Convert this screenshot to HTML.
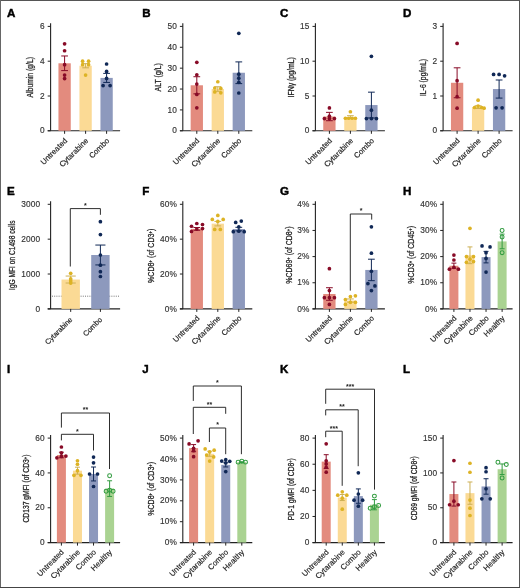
<!DOCTYPE html>
<html><head><meta charset="utf-8"><style>
html,body{margin:0;padding:0;background:#fff;}
svg{display:block;}
text{font-family:"Liberation Sans", sans-serif;}
</style></head><body>
<svg width="520" height="588" viewBox="0 0 520 588" style="will-change:transform">
<rect x="0" y="0" width="520" height="588" fill="#fff"/>
<text x="6.9" y="16.8" font-size="11.6" font-weight="bold" fill="#000" stroke="#000" stroke-width="0.45">A</text>
<line x1="50.6" y1="23.30" x2="50.6" y2="130.8" stroke="#222" stroke-width="1.1"/>
<line x1="47.70" y1="130.8" x2="120.10" y2="130.8" stroke="#222" stroke-width="1.1"/>
<line x1="47.70" y1="130.8" x2="50.6" y2="130.8" stroke="#222" stroke-width="1"/>
<text x="44.70" y="133.40" font-size="8.3" fill="#333" stroke="#333" stroke-width="0.15" text-anchor="end" letter-spacing="0.1">0</text>
<line x1="47.70" y1="96.0" x2="50.6" y2="96.0" stroke="#222" stroke-width="1"/>
<text x="44.70" y="98.60" font-size="8.3" fill="#333" stroke="#333" stroke-width="0.15" text-anchor="end" letter-spacing="0.1">2</text>
<line x1="47.70" y1="61.2" x2="50.6" y2="61.2" stroke="#222" stroke-width="1"/>
<text x="44.70" y="63.80" font-size="8.3" fill="#333" stroke="#333" stroke-width="0.15" text-anchor="end" letter-spacing="0.1">4</text>
<line x1="47.70" y1="26.4" x2="50.6" y2="26.4" stroke="#222" stroke-width="1"/>
<text x="44.70" y="29.00" font-size="8.3" fill="#333" stroke="#333" stroke-width="0.15" text-anchor="end" letter-spacing="0.1">6</text>
<text transform="translate(33.3,77.2) rotate(-90)" font-size="8.5" fill="#222" stroke="#222" stroke-width="0.26" text-anchor="middle" textLength="40.5" lengthAdjust="spacingAndGlyphs">Albumin (g/L)</text>
<rect x="58.45" y="63.29" width="12.3" height="67.51" fill="#E38B7E"/>
<rect x="79.45" y="65.72" width="12.3" height="65.08" fill="#FBDA95"/>
<rect x="100.45" y="77.9" width="12.3" height="52.90" fill="#8D99BD"/>
<line x1="64.60" y1="130.8" x2="64.60" y2="133.8" stroke="#222" stroke-width="1"/>
<text transform="translate(67.70,141.30) rotate(-45)" font-size="7.7" fill="#222" stroke="#222" stroke-width="0.18" text-anchor="end">Untreated</text>
<line x1="85.60" y1="130.8" x2="85.60" y2="133.8" stroke="#222" stroke-width="1"/>
<text transform="translate(88.70,141.30) rotate(-45)" font-size="7.7" fill="#222" stroke="#222" stroke-width="0.18" text-anchor="end">Cytarabine</text>
<line x1="106.60" y1="130.8" x2="106.60" y2="133.8" stroke="#222" stroke-width="1"/>
<text transform="translate(109.70,141.30) rotate(-45)" font-size="7.7" fill="#222" stroke="#222" stroke-width="0.18" text-anchor="end">Combo</text>
<line x1="64.60" y1="70.6" x2="64.60" y2="55.98" stroke="#880B27" stroke-width="1"/>
<line x1="61.22" y1="55.98" x2="67.98" y2="55.98" stroke="#880B27" stroke-width="1"/>
<line x1="61.22" y1="70.6" x2="67.98" y2="70.6" stroke="#880B27" stroke-width="1"/>
<circle cx="64.60" cy="43.8" r="1.85" fill="#880B27"/>
<circle cx="64.60" cy="50.76" r="1.85" fill="#880B27"/>
<circle cx="64.60" cy="64.68" r="1.85" fill="#880B27"/>
<circle cx="64.60" cy="75.12" r="1.85" fill="#880B27"/>
<circle cx="64.60" cy="78.6" r="1.85" fill="#880B27"/>
<line x1="85.60" y1="67.81" x2="85.60" y2="63.64" stroke="#CDB055" stroke-width="1"/>
<line x1="82.22" y1="63.64" x2="88.98" y2="63.64" stroke="#CDB055" stroke-width="1"/>
<line x1="82.22" y1="67.81" x2="88.98" y2="67.81" stroke="#CDB055" stroke-width="1"/>
<circle cx="82.60" cy="61.2" r="1.85" fill="#DDB325"/>
<circle cx="88.60" cy="61.2" r="1.85" fill="#DDB325"/>
<circle cx="82.60" cy="64.68" r="1.85" fill="#DDB325"/>
<circle cx="88.60" cy="64.68" r="1.85" fill="#DDB325"/>
<circle cx="85.60" cy="75.12" r="1.85" fill="#DDB325"/>
<line x1="106.60" y1="82.43" x2="106.60" y2="73.38" stroke="#102856" stroke-width="1"/>
<line x1="103.22" y1="73.38" x2="109.98" y2="73.38" stroke="#102856" stroke-width="1"/>
<line x1="103.22" y1="82.43" x2="109.98" y2="82.43" stroke="#102856" stroke-width="1"/>
<circle cx="106.60" cy="63.98" r="1.85" fill="#102856"/>
<circle cx="106.60" cy="71.47" r="1.85" fill="#102856"/>
<circle cx="106.60" cy="78.43" r="1.85" fill="#102856"/>
<circle cx="103.10" cy="85.56" r="1.85" fill="#102856"/>
<circle cx="110.10" cy="85.56" r="1.85" fill="#102856"/>
<text x="142.2" y="16.8" font-size="11.6" font-weight="bold" fill="#000" stroke="#000" stroke-width="0.45">B</text>
<line x1="182.8" y1="23.30" x2="182.8" y2="130.8" stroke="#222" stroke-width="1.1"/>
<line x1="179.90" y1="130.8" x2="252.30" y2="130.8" stroke="#222" stroke-width="1.1"/>
<line x1="179.90" y1="130.8" x2="182.8" y2="130.8" stroke="#222" stroke-width="1"/>
<text x="176.90" y="133.40" font-size="8.3" fill="#333" stroke="#333" stroke-width="0.15" text-anchor="end" letter-spacing="0.1">0</text>
<line x1="179.90" y1="109.92" x2="182.8" y2="109.92" stroke="#222" stroke-width="1"/>
<text x="176.90" y="112.52" font-size="8.3" fill="#333" stroke="#333" stroke-width="0.15" text-anchor="end" letter-spacing="0.1">10</text>
<line x1="179.90" y1="89.04" x2="182.8" y2="89.04" stroke="#222" stroke-width="1"/>
<text x="176.90" y="91.64" font-size="8.3" fill="#333" stroke="#333" stroke-width="0.15" text-anchor="end" letter-spacing="0.1">20</text>
<line x1="179.90" y1="68.16" x2="182.8" y2="68.16" stroke="#222" stroke-width="1"/>
<text x="176.90" y="70.76" font-size="8.3" fill="#333" stroke="#333" stroke-width="0.15" text-anchor="end" letter-spacing="0.1">30</text>
<line x1="179.90" y1="47.28" x2="182.8" y2="47.28" stroke="#222" stroke-width="1"/>
<text x="176.90" y="49.88" font-size="8.3" fill="#333" stroke="#333" stroke-width="0.15" text-anchor="end" letter-spacing="0.1">40</text>
<line x1="179.90" y1="26.4" x2="182.8" y2="26.4" stroke="#222" stroke-width="1"/>
<text x="176.90" y="29.00" font-size="8.3" fill="#333" stroke="#333" stroke-width="0.15" text-anchor="end" letter-spacing="0.1">50</text>
<text transform="translate(160.8,77.3) rotate(-90)" font-size="8.5" fill="#222" stroke="#222" stroke-width="0.26" text-anchor="middle" textLength="28.2" lengthAdjust="spacingAndGlyphs">ALT (g/L)</text>
<rect x="190.65" y="85.28" width="12.3" height="45.52" fill="#E38B7E"/>
<rect x="211.65" y="89.04" width="12.3" height="41.76" fill="#FBDA95"/>
<rect x="232.65" y="72.75" width="12.3" height="58.05" fill="#8D99BD"/>
<line x1="196.80" y1="130.8" x2="196.80" y2="133.8" stroke="#222" stroke-width="1"/>
<text transform="translate(199.90,141.30) rotate(-45)" font-size="7.7" fill="#222" stroke="#222" stroke-width="0.18" text-anchor="end">Untreated</text>
<line x1="217.80" y1="130.8" x2="217.80" y2="133.8" stroke="#222" stroke-width="1"/>
<text transform="translate(220.90,141.30) rotate(-45)" font-size="7.7" fill="#222" stroke="#222" stroke-width="0.18" text-anchor="end">Cytarabine</text>
<line x1="238.80" y1="130.8" x2="238.80" y2="133.8" stroke="#222" stroke-width="1"/>
<text transform="translate(241.90,141.30) rotate(-45)" font-size="7.7" fill="#222" stroke="#222" stroke-width="0.18" text-anchor="end">Combo</text>
<line x1="196.80" y1="93.84" x2="196.80" y2="76.72" stroke="#880B27" stroke-width="1"/>
<line x1="193.42" y1="76.72" x2="200.18" y2="76.72" stroke="#880B27" stroke-width="1"/>
<line x1="193.42" y1="93.84" x2="200.18" y2="93.84" stroke="#880B27" stroke-width="1"/>
<circle cx="196.80" cy="62.31" r="1.85" fill="#880B27"/>
<circle cx="196.80" cy="74.84" r="1.85" fill="#880B27"/>
<circle cx="196.80" cy="84.03" r="1.85" fill="#880B27"/>
<circle cx="196.80" cy="94.47" r="1.85" fill="#880B27"/>
<circle cx="196.80" cy="107.83" r="1.85" fill="#880B27"/>
<line x1="217.80" y1="91.34" x2="217.80" y2="86.74" stroke="#CDB055" stroke-width="1"/>
<line x1="214.42" y1="86.74" x2="221.18" y2="86.74" stroke="#CDB055" stroke-width="1"/>
<line x1="214.42" y1="91.34" x2="221.18" y2="91.34" stroke="#CDB055" stroke-width="1"/>
<circle cx="217.80" cy="81.73" r="1.85" fill="#DDB325"/>
<circle cx="214.80" cy="88.0" r="1.85" fill="#DDB325"/>
<circle cx="220.80" cy="88.41" r="1.85" fill="#DDB325"/>
<circle cx="214.80" cy="91.96" r="1.85" fill="#DDB325"/>
<circle cx="220.80" cy="92.8" r="1.85" fill="#DDB325"/>
<line x1="238.80" y1="83.61" x2="238.80" y2="61.9" stroke="#102856" stroke-width="1"/>
<line x1="235.42" y1="61.9" x2="242.18" y2="61.9" stroke="#102856" stroke-width="1"/>
<line x1="235.42" y1="83.61" x2="242.18" y2="83.61" stroke="#102856" stroke-width="1"/>
<circle cx="238.80" cy="33.29" r="1.85" fill="#102856"/>
<circle cx="238.80" cy="74.22" r="1.85" fill="#102856"/>
<circle cx="238.80" cy="78.18" r="1.85" fill="#102856"/>
<circle cx="238.80" cy="82.36" r="1.85" fill="#102856"/>
<circle cx="238.80" cy="93.01" r="1.85" fill="#102856"/>
<text x="280.0" y="16.8" font-size="11.6" font-weight="bold" fill="#000" stroke="#000" stroke-width="0.45">C</text>
<line x1="315.4" y1="23.30" x2="315.4" y2="130.8" stroke="#222" stroke-width="1.1"/>
<line x1="312.50" y1="130.8" x2="384.90" y2="130.8" stroke="#222" stroke-width="1.1"/>
<line x1="312.50" y1="130.8" x2="315.4" y2="130.8" stroke="#222" stroke-width="1"/>
<text x="309.50" y="133.40" font-size="8.3" fill="#333" stroke="#333" stroke-width="0.15" text-anchor="end" letter-spacing="0.1">0</text>
<line x1="312.50" y1="96.0" x2="315.4" y2="96.0" stroke="#222" stroke-width="1"/>
<text x="309.50" y="98.60" font-size="8.3" fill="#333" stroke="#333" stroke-width="0.15" text-anchor="end" letter-spacing="0.1">5</text>
<line x1="312.50" y1="61.2" x2="315.4" y2="61.2" stroke="#222" stroke-width="1"/>
<text x="309.50" y="63.80" font-size="8.3" fill="#333" stroke="#333" stroke-width="0.15" text-anchor="end" letter-spacing="0.1">10</text>
<line x1="312.50" y1="26.4" x2="315.4" y2="26.4" stroke="#222" stroke-width="1"/>
<text x="309.50" y="29.00" font-size="8.3" fill="#333" stroke="#333" stroke-width="0.15" text-anchor="end" letter-spacing="0.1">15</text>
<text transform="translate(293.6,77.3) rotate(-90)" font-size="8.5" fill="#222" stroke="#222" stroke-width="0.26" text-anchor="middle" textLength="40.4" lengthAdjust="spacingAndGlyphs">IFNγ (pg/mL)</text>
<rect x="323.25" y="116.53" width="12.3" height="14.27" fill="#E38B7E"/>
<rect x="344.25" y="117.09" width="12.3" height="13.71" fill="#FBDA95"/>
<rect x="365.25" y="105.05" width="12.3" height="25.75" fill="#8D99BD"/>
<line x1="329.40" y1="130.8" x2="329.40" y2="133.8" stroke="#222" stroke-width="1"/>
<text transform="translate(332.50,141.30) rotate(-45)" font-size="7.7" fill="#222" stroke="#222" stroke-width="0.18" text-anchor="end">Untreated</text>
<line x1="350.40" y1="130.8" x2="350.40" y2="133.8" stroke="#222" stroke-width="1"/>
<text transform="translate(353.50,141.30) rotate(-45)" font-size="7.7" fill="#222" stroke="#222" stroke-width="0.18" text-anchor="end">Cytarabine</text>
<line x1="371.40" y1="130.8" x2="371.40" y2="133.8" stroke="#222" stroke-width="1"/>
<text transform="translate(374.50,141.30) rotate(-45)" font-size="7.7" fill="#222" stroke="#222" stroke-width="0.18" text-anchor="end">Combo</text>
<line x1="329.40" y1="120.71" x2="329.40" y2="112.36" stroke="#880B27" stroke-width="1"/>
<line x1="326.02" y1="112.36" x2="332.78" y2="112.36" stroke="#880B27" stroke-width="1"/>
<line x1="326.02" y1="120.71" x2="332.78" y2="120.71" stroke="#880B27" stroke-width="1"/>
<circle cx="329.40" cy="107.9" r="1.85" fill="#880B27"/>
<circle cx="329.40" cy="116.18" r="1.85" fill="#880B27"/>
<circle cx="324.40" cy="118.55" r="1.85" fill="#880B27"/>
<circle cx="329.40" cy="118.55" r="1.85" fill="#880B27"/>
<circle cx="334.40" cy="118.55" r="1.85" fill="#880B27"/>
<line x1="350.40" y1="118.48" x2="350.40" y2="115.7" stroke="#CDB055" stroke-width="1"/>
<line x1="347.02" y1="115.7" x2="353.78" y2="115.7" stroke="#CDB055" stroke-width="1"/>
<line x1="347.02" y1="118.48" x2="353.78" y2="118.48" stroke="#CDB055" stroke-width="1"/>
<circle cx="350.40" cy="111.73" r="1.85" fill="#DDB325"/>
<circle cx="345.40" cy="118.27" r="1.85" fill="#DDB325"/>
<circle cx="348.70" cy="118.27" r="1.85" fill="#DDB325"/>
<circle cx="352.10" cy="118.27" r="1.85" fill="#DDB325"/>
<circle cx="355.40" cy="118.27" r="1.85" fill="#DDB325"/>
<line x1="371.40" y1="117.92" x2="371.40" y2="92.17" stroke="#102856" stroke-width="1"/>
<line x1="368.02" y1="92.17" x2="374.78" y2="92.17" stroke="#102856" stroke-width="1"/>
<line x1="368.02" y1="117.92" x2="374.78" y2="117.92" stroke="#102856" stroke-width="1"/>
<circle cx="371.40" cy="56.33" r="1.85" fill="#102856"/>
<circle cx="371.40" cy="110.2" r="1.85" fill="#102856"/>
<circle cx="366.40" cy="118.55" r="1.85" fill="#102856"/>
<circle cx="371.40" cy="118.55" r="1.85" fill="#102856"/>
<circle cx="376.40" cy="118.55" r="1.85" fill="#102856"/>
<text x="403.0" y="16.8" font-size="11.6" font-weight="bold" fill="#000" stroke="#000" stroke-width="0.45">D</text>
<line x1="443.1" y1="23.30" x2="443.1" y2="130.8" stroke="#222" stroke-width="1.1"/>
<line x1="440.20" y1="130.8" x2="512.60" y2="130.8" stroke="#222" stroke-width="1.1"/>
<line x1="440.20" y1="130.8" x2="443.1" y2="130.8" stroke="#222" stroke-width="1"/>
<text x="437.20" y="133.40" font-size="8.3" fill="#333" stroke="#333" stroke-width="0.15" text-anchor="end" letter-spacing="0.1">0</text>
<line x1="440.20" y1="96.0" x2="443.1" y2="96.0" stroke="#222" stroke-width="1"/>
<text x="437.20" y="98.60" font-size="8.3" fill="#333" stroke="#333" stroke-width="0.15" text-anchor="end" letter-spacing="0.1">1</text>
<line x1="440.20" y1="61.2" x2="443.1" y2="61.2" stroke="#222" stroke-width="1"/>
<text x="437.20" y="63.80" font-size="8.3" fill="#333" stroke="#333" stroke-width="0.15" text-anchor="end" letter-spacing="0.1">2</text>
<line x1="440.20" y1="26.4" x2="443.1" y2="26.4" stroke="#222" stroke-width="1"/>
<text x="437.20" y="29.00" font-size="8.3" fill="#333" stroke="#333" stroke-width="0.15" text-anchor="end" letter-spacing="0.1">3</text>
<text transform="translate(425.9,77.5) rotate(-90)" font-size="8.5" fill="#222" stroke="#222" stroke-width="0.26" text-anchor="middle" textLength="37.2" lengthAdjust="spacingAndGlyphs">IL-6 (pg/mL)</text>
<rect x="450.95" y="82.78" width="12.3" height="48.02" fill="#E38B7E"/>
<rect x="471.95" y="107.14" width="12.3" height="23.66" fill="#FBDA95"/>
<rect x="492.95" y="89.04" width="12.3" height="41.76" fill="#8D99BD"/>
<line x1="457.10" y1="130.8" x2="457.10" y2="133.8" stroke="#222" stroke-width="1"/>
<text transform="translate(460.20,141.30) rotate(-45)" font-size="7.7" fill="#222" stroke="#222" stroke-width="0.18" text-anchor="end">Untreated</text>
<line x1="478.10" y1="130.8" x2="478.10" y2="133.8" stroke="#222" stroke-width="1"/>
<text transform="translate(481.20,141.30) rotate(-45)" font-size="7.7" fill="#222" stroke="#222" stroke-width="0.18" text-anchor="end">Cytarabine</text>
<line x1="499.10" y1="130.8" x2="499.10" y2="133.8" stroke="#222" stroke-width="1"/>
<text transform="translate(502.20,141.30) rotate(-45)" font-size="7.7" fill="#222" stroke="#222" stroke-width="0.18" text-anchor="end">Combo</text>
<line x1="457.10" y1="97.74" x2="457.10" y2="67.81" stroke="#880B27" stroke-width="1"/>
<line x1="453.72" y1="67.81" x2="460.48" y2="67.81" stroke="#880B27" stroke-width="1"/>
<line x1="453.72" y1="97.74" x2="460.48" y2="97.74" stroke="#880B27" stroke-width="1"/>
<circle cx="457.10" cy="43.45" r="1.85" fill="#880B27"/>
<circle cx="457.10" cy="80.69" r="1.85" fill="#880B27"/>
<circle cx="457.10" cy="96.7" r="1.85" fill="#880B27"/>
<circle cx="457.10" cy="108.18" r="1.85" fill="#880B27"/>
<line x1="478.10" y1="108.53" x2="478.10" y2="105.74" stroke="#CDB055" stroke-width="1"/>
<line x1="474.72" y1="105.74" x2="481.48" y2="105.74" stroke="#CDB055" stroke-width="1"/>
<line x1="474.72" y1="108.53" x2="481.48" y2="108.53" stroke="#CDB055" stroke-width="1"/>
<circle cx="478.10" cy="100.18" r="1.85" fill="#DDB325"/>
<circle cx="474.60" cy="107.48" r="1.85" fill="#DDB325"/>
<circle cx="478.10" cy="106.09" r="1.85" fill="#DDB325"/>
<circle cx="481.60" cy="107.48" r="1.85" fill="#DDB325"/>
<circle cx="484.10" cy="108.18" r="1.85" fill="#DDB325"/>
<line x1="499.10" y1="98.09" x2="499.10" y2="79.99" stroke="#102856" stroke-width="1"/>
<line x1="495.72" y1="79.99" x2="502.48" y2="79.99" stroke="#102856" stroke-width="1"/>
<line x1="495.72" y1="98.09" x2="502.48" y2="98.09" stroke="#102856" stroke-width="1"/>
<circle cx="493.60" cy="74.42" r="1.85" fill="#102856"/>
<circle cx="499.10" cy="74.42" r="1.85" fill="#102856"/>
<circle cx="504.60" cy="75.82" r="1.85" fill="#102856"/>
<circle cx="496.10" cy="107.83" r="1.85" fill="#102856"/>
<circle cx="502.10" cy="107.83" r="1.85" fill="#102856"/>
<text x="6.9" y="194.9" font-size="11.6" font-weight="bold" fill="#000" stroke="#000" stroke-width="0.45">E</text>
<line x1="50.6" y1="201.20" x2="50.6" y2="308.9" stroke="#222" stroke-width="1.1"/>
<line x1="47.70" y1="308.9" x2="120.10" y2="308.9" stroke="#222" stroke-width="1.1"/>
<line x1="47.70" y1="308.9" x2="50.6" y2="308.9" stroke="#222" stroke-width="1"/>
<text x="40.20" y="311.50" font-size="8.3" fill="#333" stroke="#333" stroke-width="0.15" text-anchor="end" letter-spacing="0.1">0</text>
<line x1="47.70" y1="274.03" x2="50.6" y2="274.03" stroke="#222" stroke-width="1"/>
<text x="40.20" y="276.63" font-size="8.3" fill="#333" stroke="#333" stroke-width="0.15" text-anchor="end" letter-spacing="0.1">1000</text>
<line x1="47.70" y1="239.17" x2="50.6" y2="239.17" stroke="#222" stroke-width="1"/>
<text x="40.20" y="241.77" font-size="8.3" fill="#333" stroke="#333" stroke-width="0.15" text-anchor="end" letter-spacing="0.1">2000</text>
<line x1="47.70" y1="204.3" x2="50.6" y2="204.3" stroke="#222" stroke-width="1"/>
<text x="40.20" y="206.90" font-size="8.3" fill="#333" stroke="#333" stroke-width="0.15" text-anchor="end" letter-spacing="0.1">3000</text>
<text transform="translate(15.0,255.2) rotate(-90)" font-size="8.9" fill="#222" stroke="#222" stroke-width="0.26" text-anchor="middle" textLength="69.5" lengthAdjust="spacingAndGlyphs">IgG MFI on C1498 cells</text>
<line x1="52" y1="296.2" x2="119.5" y2="296.2" stroke="#666" stroke-width="0.9" stroke-dasharray="1,1.2"/>
<rect x="61.50" y="279.54" width="18.4" height="29.36" fill="#FBDA95"/>
<rect x="91.20" y="255.0" width="18.4" height="53.90" fill="#8D99BD"/>
<line x1="70.70" y1="308.9" x2="70.70" y2="311.9" stroke="#222" stroke-width="1"/>
<text transform="translate(72.90,320.10) rotate(-45)" font-size="7.3" fill="#222" stroke="#222" stroke-width="0.18" text-anchor="end">Cytarabine</text>
<line x1="100.40" y1="308.9" x2="100.40" y2="311.9" stroke="#222" stroke-width="1"/>
<text transform="translate(102.60,320.10) rotate(-45)" font-size="7.3" fill="#222" stroke="#222" stroke-width="0.18" text-anchor="end">Combo</text>
<line x1="70.70" y1="283.03" x2="70.70" y2="276.06" stroke="#CDB055" stroke-width="1"/>
<line x1="65.64" y1="276.06" x2="75.76" y2="276.06" stroke="#CDB055" stroke-width="1"/>
<line x1="65.64" y1="283.03" x2="75.76" y2="283.03" stroke="#CDB055" stroke-width="1"/>
<circle cx="70.70" cy="273.34" r="1.85" fill="#DDB325"/>
<circle cx="70.70" cy="278.91" r="1.85" fill="#DDB325"/>
<circle cx="70.70" cy="281.01" r="1.85" fill="#DDB325"/>
<circle cx="70.70" cy="283.1" r="1.85" fill="#DDB325"/>
<line x1="100.40" y1="264.93" x2="100.40" y2="245.06" stroke="#102856" stroke-width="1"/>
<line x1="95.34" y1="245.06" x2="105.46" y2="245.06" stroke="#102856" stroke-width="1"/>
<line x1="95.34" y1="264.93" x2="105.46" y2="264.93" stroke="#102856" stroke-width="1"/>
<circle cx="100.40" cy="221.63" r="1.85" fill="#102856"/>
<circle cx="100.40" cy="234.6" r="1.85" fill="#102856"/>
<circle cx="100.40" cy="255.0" r="1.85" fill="#102856"/>
<circle cx="100.40" cy="265.18" r="1.85" fill="#102856"/>
<circle cx="100.40" cy="271.63" r="1.85" fill="#102856"/>
<circle cx="100.40" cy="276.51" r="1.85" fill="#102856"/>
<polyline points="70.3,266.5 70.3,208.6 100.4,208.6 100.4,214.8" fill="none" stroke="#222" stroke-width="0.95"/>
<text x="85.35" y="207.9" font-size="7" font-weight="bold" fill="#222" text-anchor="middle">*</text>
<text x="142.2" y="194.9" font-size="11.6" font-weight="bold" fill="#000" stroke="#000" stroke-width="0.45">F</text>
<line x1="182.8" y1="201.20" x2="182.8" y2="308.9" stroke="#222" stroke-width="1.1"/>
<line x1="179.90" y1="308.9" x2="252.30" y2="308.9" stroke="#222" stroke-width="1.1"/>
<line x1="179.90" y1="308.9" x2="182.8" y2="308.9" stroke="#222" stroke-width="1"/>
<text x="176.90" y="311.50" font-size="8.3" fill="#333" stroke="#333" stroke-width="0.15" text-anchor="end" letter-spacing="0.1">0%</text>
<line x1="179.90" y1="274.03" x2="182.8" y2="274.03" stroke="#222" stroke-width="1"/>
<text x="176.90" y="276.63" font-size="8.3" fill="#333" stroke="#333" stroke-width="0.15" text-anchor="end" letter-spacing="0.1">20%</text>
<line x1="179.90" y1="239.17" x2="182.8" y2="239.17" stroke="#222" stroke-width="1"/>
<text x="176.90" y="241.77" font-size="8.3" fill="#333" stroke="#333" stroke-width="0.15" text-anchor="end" letter-spacing="0.1">40%</text>
<line x1="179.90" y1="204.3" x2="182.8" y2="204.3" stroke="#222" stroke-width="1"/>
<text x="176.90" y="206.90" font-size="8.3" fill="#333" stroke="#333" stroke-width="0.15" text-anchor="end" letter-spacing="0.1">60%</text>
<text transform="translate(154.0,255.8) rotate(-90)" font-size="9.0" fill="#222" stroke="#222" stroke-width="0.26" text-anchor="middle" textLength="54.3" lengthAdjust="spacingAndGlyphs">%CD8<tspan baseline-shift="40%" font-size="60%">+</tspan> (of CD3<tspan baseline-shift="40%" font-size="60%">+</tspan>)</text>
<rect x="190.65" y="228.88" width="12.3" height="80.02" fill="#E38B7E"/>
<rect x="211.65" y="223.65" width="12.3" height="85.25" fill="#FBDA95"/>
<rect x="232.65" y="229.06" width="12.3" height="79.84" fill="#8D99BD"/>
<line x1="196.80" y1="308.9" x2="196.80" y2="311.9" stroke="#222" stroke-width="1"/>
<text transform="translate(200.00,318.80) rotate(-45)" font-size="7.7" fill="#222" stroke="#222" stroke-width="0.18" text-anchor="end">Untreated</text>
<line x1="217.80" y1="308.9" x2="217.80" y2="311.9" stroke="#222" stroke-width="1"/>
<text transform="translate(221.00,318.80) rotate(-45)" font-size="7.7" fill="#222" stroke="#222" stroke-width="0.18" text-anchor="end">Cytarabine</text>
<line x1="238.80" y1="308.9" x2="238.80" y2="311.9" stroke="#222" stroke-width="1"/>
<text transform="translate(242.00,318.80) rotate(-45)" font-size="7.7" fill="#222" stroke="#222" stroke-width="0.18" text-anchor="end">Combo</text>
<line x1="196.80" y1="230.28" x2="196.80" y2="227.49" stroke="#880B27" stroke-width="1"/>
<line x1="193.42" y1="227.49" x2="200.18" y2="227.49" stroke="#880B27" stroke-width="1"/>
<line x1="193.42" y1="230.28" x2="200.18" y2="230.28" stroke="#880B27" stroke-width="1"/>
<circle cx="196.80" cy="223.48" r="1.85" fill="#880B27"/>
<circle cx="191.50" cy="226.27" r="1.85" fill="#880B27"/>
<circle cx="202.50" cy="224.52" r="1.85" fill="#880B27"/>
<circle cx="202.50" cy="228.53" r="1.85" fill="#880B27"/>
<circle cx="191.50" cy="231.5" r="1.85" fill="#880B27"/>
<circle cx="196.80" cy="229.06" r="1.85" fill="#880B27"/>
<line x1="217.80" y1="225.92" x2="217.80" y2="221.38" stroke="#CDB055" stroke-width="1"/>
<line x1="214.42" y1="221.38" x2="221.18" y2="221.38" stroke="#CDB055" stroke-width="1"/>
<line x1="214.42" y1="225.92" x2="221.18" y2="225.92" stroke="#CDB055" stroke-width="1"/>
<circle cx="217.80" cy="215.46" r="1.85" fill="#DDB325"/>
<circle cx="212.30" cy="219.47" r="1.85" fill="#DDB325"/>
<circle cx="223.20" cy="219.47" r="1.85" fill="#DDB325"/>
<circle cx="217.80" cy="221.38" r="1.85" fill="#DDB325"/>
<circle cx="214.70" cy="229.4" r="1.85" fill="#DDB325"/>
<circle cx="220.30" cy="229.4" r="1.85" fill="#DDB325"/>
<line x1="238.80" y1="230.8" x2="238.80" y2="227.31" stroke="#102856" stroke-width="1"/>
<line x1="235.42" y1="227.31" x2="242.18" y2="227.31" stroke="#102856" stroke-width="1"/>
<line x1="235.42" y1="230.8" x2="242.18" y2="230.8" stroke="#102856" stroke-width="1"/>
<circle cx="235.70" cy="222.43" r="1.85" fill="#102856"/>
<circle cx="241.30" cy="221.04" r="1.85" fill="#102856"/>
<circle cx="238.80" cy="226.96" r="1.85" fill="#102856"/>
<circle cx="233.30" cy="231.67" r="1.85" fill="#102856"/>
<circle cx="244.20" cy="231.67" r="1.85" fill="#102856"/>
<circle cx="238.80" cy="231.15" r="1.85" fill="#102856"/>
<text x="280.0" y="194.9" font-size="11.6" font-weight="bold" fill="#000" stroke="#000" stroke-width="0.45">G</text>
<line x1="315.4" y1="201.20" x2="315.4" y2="308.9" stroke="#222" stroke-width="1.1"/>
<line x1="312.50" y1="308.9" x2="384.90" y2="308.9" stroke="#222" stroke-width="1.1"/>
<line x1="312.50" y1="308.9" x2="315.4" y2="308.9" stroke="#222" stroke-width="1"/>
<text x="309.50" y="311.50" font-size="8.3" fill="#333" stroke="#333" stroke-width="0.15" text-anchor="end" letter-spacing="0.1">0%</text>
<line x1="312.50" y1="282.75" x2="315.4" y2="282.75" stroke="#222" stroke-width="1"/>
<text x="309.50" y="285.35" font-size="8.3" fill="#333" stroke="#333" stroke-width="0.15" text-anchor="end" letter-spacing="0.1">1%</text>
<line x1="312.50" y1="256.6" x2="315.4" y2="256.6" stroke="#222" stroke-width="1"/>
<text x="309.50" y="259.20" font-size="8.3" fill="#333" stroke="#333" stroke-width="0.15" text-anchor="end" letter-spacing="0.1">2%</text>
<line x1="312.50" y1="230.45" x2="315.4" y2="230.45" stroke="#222" stroke-width="1"/>
<text x="309.50" y="233.05" font-size="8.3" fill="#333" stroke="#333" stroke-width="0.15" text-anchor="end" letter-spacing="0.1">3%</text>
<line x1="312.50" y1="204.3" x2="315.4" y2="204.3" stroke="#222" stroke-width="1"/>
<text x="309.50" y="206.90" font-size="8.3" fill="#333" stroke="#333" stroke-width="0.15" text-anchor="end" letter-spacing="0.1">4%</text>
<text transform="translate(291.5,255.1) rotate(-90)" font-size="9.1" fill="#222" stroke="#222" stroke-width="0.26" text-anchor="middle" textLength="57.2" lengthAdjust="spacingAndGlyphs">%CD69<tspan baseline-shift="40%" font-size="60%">+</tspan> (of CD8<tspan baseline-shift="40%" font-size="60%">+</tspan>)</text>
<rect x="323.25" y="293.99" width="12.3" height="14.91" fill="#E38B7E"/>
<rect x="344.25" y="300.53" width="12.3" height="8.37" fill="#FBDA95"/>
<rect x="365.25" y="269.94" width="12.3" height="38.96" fill="#8D99BD"/>
<line x1="329.40" y1="308.9" x2="329.40" y2="311.9" stroke="#222" stroke-width="1"/>
<text transform="translate(332.60,318.80) rotate(-45)" font-size="7.7" fill="#222" stroke="#222" stroke-width="0.18" text-anchor="end">Untreated</text>
<line x1="350.40" y1="308.9" x2="350.40" y2="311.9" stroke="#222" stroke-width="1"/>
<text transform="translate(353.60,318.80) rotate(-45)" font-size="7.7" fill="#222" stroke="#222" stroke-width="0.18" text-anchor="end">Cytarabine</text>
<line x1="371.40" y1="308.9" x2="371.40" y2="311.9" stroke="#222" stroke-width="1"/>
<text transform="translate(374.60,318.80) rotate(-45)" font-size="7.7" fill="#222" stroke="#222" stroke-width="0.18" text-anchor="end">Combo</text>
<line x1="329.40" y1="300.27" x2="329.40" y2="287.72" stroke="#880B27" stroke-width="1"/>
<line x1="326.02" y1="287.72" x2="332.78" y2="287.72" stroke="#880B27" stroke-width="1"/>
<line x1="326.02" y1="300.27" x2="332.78" y2="300.27" stroke="#880B27" stroke-width="1"/>
<circle cx="329.40" cy="268.63" r="1.85" fill="#880B27"/>
<circle cx="329.40" cy="290.59" r="1.85" fill="#880B27"/>
<circle cx="324.40" cy="297.66" r="1.85" fill="#880B27"/>
<circle cx="329.40" cy="297.66" r="1.85" fill="#880B27"/>
<circle cx="334.40" cy="297.66" r="1.85" fill="#880B27"/>
<circle cx="329.40" cy="304.45" r="1.85" fill="#880B27"/>
<line x1="350.40" y1="302.1" x2="350.40" y2="298.96" stroke="#CDB055" stroke-width="1"/>
<line x1="347.02" y1="298.96" x2="353.78" y2="298.96" stroke="#CDB055" stroke-width="1"/>
<line x1="347.02" y1="302.1" x2="353.78" y2="302.1" stroke="#CDB055" stroke-width="1"/>
<circle cx="350.40" cy="296.61" r="1.85" fill="#DDB325"/>
<circle cx="345.40" cy="299.49" r="1.85" fill="#DDB325"/>
<circle cx="355.40" cy="295.82" r="1.85" fill="#DDB325"/>
<circle cx="350.40" cy="302.36" r="1.85" fill="#DDB325"/>
<circle cx="345.40" cy="304.45" r="1.85" fill="#DDB325"/>
<circle cx="355.40" cy="302.36" r="1.85" fill="#DDB325"/>
<line x1="371.40" y1="280.66" x2="371.40" y2="259.21" stroke="#102856" stroke-width="1"/>
<line x1="368.02" y1="259.21" x2="374.78" y2="259.21" stroke="#102856" stroke-width="1"/>
<line x1="368.02" y1="280.66" x2="374.78" y2="280.66" stroke="#102856" stroke-width="1"/>
<circle cx="371.40" cy="226.79" r="1.85" fill="#102856"/>
<circle cx="371.40" cy="253.2" r="1.85" fill="#102856"/>
<circle cx="371.40" cy="271.24" r="1.85" fill="#102856"/>
<circle cx="367.90" cy="283.53" r="1.85" fill="#102856"/>
<circle cx="374.90" cy="285.89" r="1.85" fill="#102856"/>
<circle cx="371.40" cy="290.59" r="1.85" fill="#102856"/>
<polyline points="350.3,290.6 350.3,214.0 371.7,214.0 371.7,219.6" fill="none" stroke="#222" stroke-width="0.95"/>
<text x="361.00" y="213.3" font-size="7" font-weight="bold" fill="#222" text-anchor="middle">*</text>
<text x="403.0" y="194.9" font-size="11.6" font-weight="bold" fill="#000" stroke="#000" stroke-width="0.45">H</text>
<line x1="443.1" y1="201.20" x2="443.1" y2="308.9" stroke="#222" stroke-width="1.1"/>
<line x1="440.20" y1="308.9" x2="512.60" y2="308.9" stroke="#222" stroke-width="1.1"/>
<line x1="440.20" y1="308.9" x2="443.1" y2="308.9" stroke="#222" stroke-width="1"/>
<text x="437.20" y="311.50" font-size="8.3" fill="#333" stroke="#333" stroke-width="0.15" text-anchor="end" letter-spacing="0.1">0%</text>
<line x1="440.20" y1="282.75" x2="443.1" y2="282.75" stroke="#222" stroke-width="1"/>
<text x="437.20" y="285.35" font-size="8.3" fill="#333" stroke="#333" stroke-width="0.15" text-anchor="end" letter-spacing="0.1">10%</text>
<line x1="440.20" y1="256.6" x2="443.1" y2="256.6" stroke="#222" stroke-width="1"/>
<text x="437.20" y="259.20" font-size="8.3" fill="#333" stroke="#333" stroke-width="0.15" text-anchor="end" letter-spacing="0.1">20%</text>
<line x1="440.20" y1="230.45" x2="443.1" y2="230.45" stroke="#222" stroke-width="1"/>
<text x="437.20" y="233.05" font-size="8.3" fill="#333" stroke="#333" stroke-width="0.15" text-anchor="end" letter-spacing="0.1">30%</text>
<line x1="440.20" y1="204.3" x2="443.1" y2="204.3" stroke="#222" stroke-width="1"/>
<text x="437.20" y="206.90" font-size="8.3" fill="#333" stroke="#333" stroke-width="0.15" text-anchor="end" letter-spacing="0.1">40%</text>
<text transform="translate(414.4,254.8) rotate(-90)" font-size="9.0" fill="#222" stroke="#222" stroke-width="0.26" text-anchor="middle" textLength="57.8" lengthAdjust="spacingAndGlyphs">%CD3<tspan baseline-shift="40%" font-size="60%">+</tspan> (of CD45<tspan baseline-shift="40%" font-size="60%">+</tspan>)</text>
<rect x="449.40" y="265.75" width="9.0" height="43.15" fill="#E38B7E"/>
<rect x="465.47" y="255.29" width="9.0" height="53.61" fill="#FBDA95"/>
<rect x="481.54" y="257.12" width="9.0" height="51.78" fill="#8D99BD"/>
<rect x="497.61" y="241.43" width="9.0" height="67.47" fill="#AAD392"/>
<line x1="453.90" y1="308.9" x2="453.90" y2="311.9" stroke="#222" stroke-width="1"/>
<text transform="translate(457.10,318.80) rotate(-45)" font-size="7.7" fill="#222" stroke="#222" stroke-width="0.18" text-anchor="end">Untreated</text>
<line x1="469.97" y1="308.9" x2="469.97" y2="311.9" stroke="#222" stroke-width="1"/>
<text transform="translate(473.17,318.80) rotate(-45)" font-size="7.7" fill="#222" stroke="#222" stroke-width="0.18" text-anchor="end">Cytarabine</text>
<line x1="486.04" y1="308.9" x2="486.04" y2="311.9" stroke="#222" stroke-width="1"/>
<text transform="translate(489.24,318.80) rotate(-45)" font-size="7.7" fill="#222" stroke="#222" stroke-width="0.18" text-anchor="end">Combo</text>
<line x1="502.11" y1="308.9" x2="502.11" y2="311.9" stroke="#222" stroke-width="1"/>
<text transform="translate(505.31,318.80) rotate(-45)" font-size="7.7" fill="#222" stroke="#222" stroke-width="0.18" text-anchor="end">Healthy</text>
<line x1="453.90" y1="268.37" x2="453.90" y2="263.14" stroke="#880B27" stroke-width="1"/>
<line x1="451.43" y1="263.14" x2="456.38" y2="263.14" stroke="#880B27" stroke-width="1"/>
<line x1="451.43" y1="268.37" x2="456.38" y2="268.37" stroke="#880B27" stroke-width="1"/>
<circle cx="453.90" cy="255.03" r="1.85" fill="#880B27"/>
<circle cx="453.90" cy="260.0" r="1.85" fill="#880B27"/>
<circle cx="449.40" cy="269.15" r="1.85" fill="#880B27"/>
<circle cx="458.40" cy="269.15" r="1.85" fill="#880B27"/>
<circle cx="453.90" cy="267.32" r="1.85" fill="#880B27"/>
<line x1="469.97" y1="263.66" x2="469.97" y2="246.92" stroke="#CDB055" stroke-width="1"/>
<line x1="467.50" y1="246.92" x2="472.45" y2="246.92" stroke="#CDB055" stroke-width="1"/>
<line x1="467.50" y1="263.66" x2="472.45" y2="263.66" stroke="#CDB055" stroke-width="1"/>
<circle cx="469.97" cy="228.36" r="1.85" fill="#DDB325"/>
<circle cx="466.47" cy="256.6" r="1.85" fill="#DDB325"/>
<circle cx="473.47" cy="256.6" r="1.85" fill="#DDB325"/>
<circle cx="469.97" cy="259.21" r="1.85" fill="#DDB325"/>
<circle cx="466.47" cy="262.35" r="1.85" fill="#DDB325"/>
<circle cx="473.47" cy="261.57" r="1.85" fill="#DDB325"/>
<line x1="486.04" y1="262.88" x2="486.04" y2="251.37" stroke="#102856" stroke-width="1"/>
<line x1="483.56" y1="251.37" x2="488.52" y2="251.37" stroke="#102856" stroke-width="1"/>
<line x1="483.56" y1="262.88" x2="488.52" y2="262.88" stroke="#102856" stroke-width="1"/>
<circle cx="482.04" cy="245.88" r="1.85" fill="#102856"/>
<circle cx="490.04" cy="246.92" r="1.85" fill="#102856"/>
<circle cx="486.04" cy="252.68" r="1.85" fill="#102856"/>
<circle cx="486.04" cy="258.43" r="1.85" fill="#102856"/>
<circle cx="486.04" cy="272.03" r="1.85" fill="#102856"/>
<line x1="502.11" y1="248.75" x2="502.11" y2="234.11" stroke="#329C40" stroke-width="1"/>
<line x1="499.63" y1="234.11" x2="504.59" y2="234.11" stroke="#329C40" stroke-width="1"/>
<line x1="499.63" y1="248.75" x2="504.59" y2="248.75" stroke="#329C40" stroke-width="1"/>
<circle cx="502.11" cy="230.45" r="1.95" fill="none" stroke="#329C40" stroke-width="1.05"/>
<circle cx="502.11" cy="236.99" r="1.95" fill="none" stroke="#329C40" stroke-width="1.05"/>
<circle cx="502.11" cy="252.68" r="1.95" fill="none" stroke="#329C40" stroke-width="1.05"/>
<text x="6.9" y="372.7" font-size="11.6" font-weight="bold" fill="#000" stroke="#000" stroke-width="0.45">I</text>
<line x1="50.6" y1="435.00" x2="50.6" y2="542.6" stroke="#222" stroke-width="1.1"/>
<line x1="47.70" y1="542.6" x2="120.10" y2="542.6" stroke="#222" stroke-width="1.1"/>
<line x1="47.70" y1="542.6" x2="50.6" y2="542.6" stroke="#222" stroke-width="1"/>
<text x="44.70" y="545.20" font-size="8.3" fill="#333" stroke="#333" stroke-width="0.15" text-anchor="end" letter-spacing="0.1">0</text>
<line x1="47.70" y1="507.77" x2="50.6" y2="507.77" stroke="#222" stroke-width="1"/>
<text x="44.70" y="510.37" font-size="8.3" fill="#333" stroke="#333" stroke-width="0.15" text-anchor="end" letter-spacing="0.1">20</text>
<line x1="47.70" y1="472.93" x2="50.6" y2="472.93" stroke="#222" stroke-width="1"/>
<text x="44.70" y="475.53" font-size="8.3" fill="#333" stroke="#333" stroke-width="0.15" text-anchor="end" letter-spacing="0.1">40</text>
<line x1="47.70" y1="438.1" x2="50.6" y2="438.1" stroke="#222" stroke-width="1"/>
<text x="44.70" y="440.70" font-size="8.3" fill="#333" stroke="#333" stroke-width="0.15" text-anchor="end" letter-spacing="0.1">60</text>
<text transform="translate(29.2,488.6) rotate(-90)" font-size="8.9" fill="#222" stroke="#222" stroke-width="0.26" text-anchor="middle" textLength="68.0" lengthAdjust="spacingAndGlyphs">CD137 gMFI (of CD3<tspan baseline-shift="40%" font-size="60%">+</tspan>)</text>
<rect x="56.90" y="454.99" width="9.0" height="87.61" fill="#E38B7E"/>
<rect x="72.97" y="470.67" width="9.0" height="71.93" fill="#FBDA95"/>
<rect x="89.04" y="473.98" width="9.0" height="68.62" fill="#8D99BD"/>
<rect x="105.11" y="488.61" width="9.0" height="53.99" fill="#AAD392"/>
<line x1="61.40" y1="542.6" x2="61.40" y2="545.6" stroke="#222" stroke-width="1"/>
<text transform="translate(64.40,552.70) rotate(-45)" font-size="7.8" fill="#222" stroke="#222" stroke-width="0.18" text-anchor="end">Untreated</text>
<line x1="77.47" y1="542.6" x2="77.47" y2="545.6" stroke="#222" stroke-width="1"/>
<text transform="translate(80.47,552.70) rotate(-45)" font-size="7.8" fill="#222" stroke="#222" stroke-width="0.18" text-anchor="end">Cytarabine</text>
<line x1="93.54" y1="542.6" x2="93.54" y2="545.6" stroke="#222" stroke-width="1"/>
<text transform="translate(96.54,552.70) rotate(-45)" font-size="7.8" fill="#222" stroke="#222" stroke-width="0.18" text-anchor="end">Combo</text>
<line x1="109.61" y1="542.6" x2="109.61" y2="545.6" stroke="#222" stroke-width="1"/>
<text transform="translate(112.61,552.70) rotate(-45)" font-size="7.8" fill="#222" stroke="#222" stroke-width="0.18" text-anchor="end">Healthy</text>
<line x1="61.40" y1="457.78" x2="61.40" y2="452.21" stroke="#880B27" stroke-width="1"/>
<line x1="58.93" y1="452.21" x2="63.88" y2="452.21" stroke="#880B27" stroke-width="1"/>
<line x1="58.93" y1="457.78" x2="63.88" y2="457.78" stroke="#880B27" stroke-width="1"/>
<circle cx="61.40" cy="446.98" r="1.85" fill="#880B27"/>
<circle cx="61.40" cy="452.9" r="1.85" fill="#880B27"/>
<circle cx="56.90" cy="457.78" r="1.85" fill="#880B27"/>
<circle cx="65.90" cy="456.04" r="1.85" fill="#880B27"/>
<circle cx="61.40" cy="456.39" r="1.85" fill="#880B27"/>
<line x1="77.47" y1="474.15" x2="77.47" y2="467.19" stroke="#CDB055" stroke-width="1"/>
<line x1="75.00" y1="467.19" x2="79.94" y2="467.19" stroke="#CDB055" stroke-width="1"/>
<line x1="75.00" y1="474.15" x2="79.94" y2="474.15" stroke="#CDB055" stroke-width="1"/>
<circle cx="77.47" cy="460.74" r="1.85" fill="#DDB325"/>
<circle cx="77.47" cy="464.23" r="1.85" fill="#DDB325"/>
<circle cx="77.47" cy="470.67" r="1.85" fill="#DDB325"/>
<circle cx="73.97" cy="475.37" r="1.85" fill="#DDB325"/>
<circle cx="80.97" cy="475.37" r="1.85" fill="#DDB325"/>
<line x1="93.54" y1="480.95" x2="93.54" y2="467.01" stroke="#102856" stroke-width="1"/>
<line x1="91.07" y1="467.01" x2="96.02" y2="467.01" stroke="#102856" stroke-width="1"/>
<line x1="91.07" y1="480.95" x2="96.02" y2="480.95" stroke="#102856" stroke-width="1"/>
<circle cx="93.54" cy="457.08" r="1.85" fill="#102856"/>
<circle cx="93.54" cy="462.83" r="1.85" fill="#102856"/>
<circle cx="89.54" cy="473.98" r="1.85" fill="#102856"/>
<circle cx="97.54" cy="473.98" r="1.85" fill="#102856"/>
<circle cx="93.54" cy="486.52" r="1.85" fill="#102856"/>
<line x1="109.61" y1="496.45" x2="109.61" y2="480.77" stroke="#329C40" stroke-width="1"/>
<line x1="107.14" y1="480.77" x2="112.09" y2="480.77" stroke="#329C40" stroke-width="1"/>
<line x1="107.14" y1="496.45" x2="112.09" y2="496.45" stroke="#329C40" stroke-width="1"/>
<circle cx="109.61" cy="475.72" r="1.95" fill="none" stroke="#329C40" stroke-width="1.05"/>
<circle cx="106.11" cy="491.22" r="1.95" fill="none" stroke="#329C40" stroke-width="1.05"/>
<circle cx="113.11" cy="491.22" r="1.95" fill="none" stroke="#329C40" stroke-width="1.05"/>
<circle cx="109.61" cy="490.18" r="1.95" fill="none" stroke="#329C40" stroke-width="1.05"/>
<polyline points="61.4,427.6 61.4,413.0 109.5,413.0 109.5,469.0" fill="none" stroke="#222" stroke-width="0.95"/>
<text x="85.45" y="412.3" font-size="7" font-weight="bold" fill="#222" text-anchor="middle">**</text>
<polyline points="61.4,440.4 61.4,434.3 93.5,434.3 93.5,450.5" fill="none" stroke="#222" stroke-width="0.95"/>
<text x="77.45" y="433.6" font-size="7" font-weight="bold" fill="#222" text-anchor="middle">*</text>
<text x="142.2" y="372.7" font-size="11.6" font-weight="bold" fill="#000" stroke="#000" stroke-width="0.45">J</text>
<line x1="182.8" y1="435.00" x2="182.8" y2="542.6" stroke="#222" stroke-width="1.1"/>
<line x1="179.90" y1="542.6" x2="252.30" y2="542.6" stroke="#222" stroke-width="1.1"/>
<line x1="179.90" y1="542.6" x2="182.8" y2="542.6" stroke="#222" stroke-width="1"/>
<text x="176.90" y="545.20" font-size="8.3" fill="#333" stroke="#333" stroke-width="0.15" text-anchor="end" letter-spacing="0.1">0%</text>
<line x1="179.90" y1="521.7" x2="182.8" y2="521.7" stroke="#222" stroke-width="1"/>
<text x="176.90" y="524.30" font-size="8.3" fill="#333" stroke="#333" stroke-width="0.15" text-anchor="end" letter-spacing="0.1">10%</text>
<line x1="179.90" y1="500.8" x2="182.8" y2="500.8" stroke="#222" stroke-width="1"/>
<text x="176.90" y="503.40" font-size="8.3" fill="#333" stroke="#333" stroke-width="0.15" text-anchor="end" letter-spacing="0.1">20%</text>
<line x1="179.90" y1="479.9" x2="182.8" y2="479.9" stroke="#222" stroke-width="1"/>
<text x="176.90" y="482.50" font-size="8.3" fill="#333" stroke="#333" stroke-width="0.15" text-anchor="end" letter-spacing="0.1">30%</text>
<line x1="179.90" y1="459.0" x2="182.8" y2="459.0" stroke="#222" stroke-width="1"/>
<text x="176.90" y="461.60" font-size="8.3" fill="#333" stroke="#333" stroke-width="0.15" text-anchor="end" letter-spacing="0.1">40%</text>
<line x1="179.90" y1="438.1" x2="182.8" y2="438.1" stroke="#222" stroke-width="1"/>
<text x="176.90" y="440.70" font-size="8.3" fill="#333" stroke="#333" stroke-width="0.15" text-anchor="end" letter-spacing="0.1">50%</text>
<text transform="translate(153.6,488.8) rotate(-90)" font-size="8.9" fill="#222" stroke="#222" stroke-width="0.26" text-anchor="middle" textLength="54.0" lengthAdjust="spacingAndGlyphs">%CD8<tspan baseline-shift="40%" font-size="60%">+</tspan> (of CD3<tspan baseline-shift="40%" font-size="60%">+</tspan>)</text>
<rect x="189.10" y="448.13" width="9.0" height="94.47" fill="#E38B7E"/>
<rect x="205.17" y="453.78" width="9.0" height="88.82" fill="#FBDA95"/>
<rect x="221.24" y="464.85" width="9.0" height="77.75" fill="#8D99BD"/>
<rect x="237.31" y="462.14" width="9.0" height="80.46" fill="#AAD392"/>
<line x1="193.60" y1="542.6" x2="193.60" y2="545.6" stroke="#222" stroke-width="1"/>
<text transform="translate(196.60,552.70) rotate(-45)" font-size="7.8" fill="#222" stroke="#222" stroke-width="0.18" text-anchor="end">Untreated</text>
<line x1="209.67" y1="542.6" x2="209.67" y2="545.6" stroke="#222" stroke-width="1"/>
<text transform="translate(212.67,552.70) rotate(-45)" font-size="7.8" fill="#222" stroke="#222" stroke-width="0.18" text-anchor="end">Cytarabine</text>
<line x1="225.74" y1="542.6" x2="225.74" y2="545.6" stroke="#222" stroke-width="1"/>
<text transform="translate(228.74,552.70) rotate(-45)" font-size="7.8" fill="#222" stroke="#222" stroke-width="0.18" text-anchor="end">Combo</text>
<line x1="241.81" y1="542.6" x2="241.81" y2="545.6" stroke="#222" stroke-width="1"/>
<text transform="translate(244.81,552.70) rotate(-45)" font-size="7.8" fill="#222" stroke="#222" stroke-width="0.18" text-anchor="end">Healthy</text>
<line x1="193.60" y1="451.69" x2="193.60" y2="444.58" stroke="#880B27" stroke-width="1"/>
<line x1="191.13" y1="444.58" x2="196.08" y2="444.58" stroke="#880B27" stroke-width="1"/>
<line x1="191.13" y1="451.69" x2="196.08" y2="451.69" stroke="#880B27" stroke-width="1"/>
<circle cx="189.10" cy="443.95" r="1.85" fill="#880B27"/>
<circle cx="198.10" cy="440.82" r="1.85" fill="#880B27"/>
<circle cx="193.60" cy="448.34" r="1.85" fill="#880B27"/>
<circle cx="193.60" cy="456.7" r="1.85" fill="#880B27"/>
<circle cx="193.60" cy="450.64" r="1.85" fill="#880B27"/>
<line x1="209.67" y1="456.28" x2="209.67" y2="451.27" stroke="#CDB055" stroke-width="1"/>
<line x1="207.20" y1="451.27" x2="212.15" y2="451.27" stroke="#CDB055" stroke-width="1"/>
<line x1="207.20" y1="456.28" x2="212.15" y2="456.28" stroke="#CDB055" stroke-width="1"/>
<circle cx="205.17" cy="448.97" r="1.85" fill="#DDB325"/>
<circle cx="214.17" cy="450.22" r="1.85" fill="#DDB325"/>
<circle cx="206.67" cy="455.03" r="1.85" fill="#DDB325"/>
<circle cx="213.67" cy="456.91" r="1.85" fill="#DDB325"/>
<circle cx="209.67" cy="461.09" r="1.85" fill="#DDB325"/>
<circle cx="209.67" cy="451.89" r="1.85" fill="#DDB325"/>
<line x1="225.74" y1="466.94" x2="225.74" y2="462.76" stroke="#102856" stroke-width="1"/>
<line x1="223.27" y1="462.76" x2="228.22" y2="462.76" stroke="#102856" stroke-width="1"/>
<line x1="223.27" y1="466.94" x2="228.22" y2="466.94" stroke="#102856" stroke-width="1"/>
<circle cx="221.74" cy="461.09" r="1.85" fill="#102856"/>
<circle cx="225.74" cy="459.63" r="1.85" fill="#102856"/>
<circle cx="229.74" cy="461.3" r="1.85" fill="#102856"/>
<circle cx="225.74" cy="462.97" r="1.85" fill="#102856"/>
<circle cx="225.74" cy="471.54" r="1.85" fill="#102856"/>
<line x1="241.81" y1="462.55" x2="241.81" y2="461.72" stroke="#329C40" stroke-width="1"/>
<line x1="239.34" y1="461.72" x2="244.29" y2="461.72" stroke="#329C40" stroke-width="1"/>
<line x1="239.34" y1="462.55" x2="244.29" y2="462.55" stroke="#329C40" stroke-width="1"/>
<circle cx="238.11" cy="462.14" r="1.95" fill="none" stroke="#329C40" stroke-width="1.05"/>
<circle cx="241.81" cy="461.3" r="1.95" fill="none" stroke="#329C40" stroke-width="1.05"/>
<circle cx="245.51" cy="462.14" r="1.95" fill="none" stroke="#329C40" stroke-width="1.05"/>
<polyline points="193.3,400.9 193.3,386.0 241.4,386.0 241.4,454.2" fill="none" stroke="#222" stroke-width="0.95"/>
<text x="217.35" y="385.3" font-size="7" font-weight="bold" fill="#222" text-anchor="middle">*</text>
<polyline points="193.3,434.0 193.3,407.3 225.7,407.3 225.7,413.8" fill="none" stroke="#222" stroke-width="0.95"/>
<text x="209.50" y="406.6" font-size="7" font-weight="bold" fill="#222" text-anchor="middle">**</text>
<polyline points="209.4,442.0 209.4,428.0 225.7,428.0 225.7,454.2" fill="none" stroke="#222" stroke-width="0.95"/>
<text x="217.55" y="427.3" font-size="7" font-weight="bold" fill="#222" text-anchor="middle">*</text>
<text x="280.0" y="372.7" font-size="11.6" font-weight="bold" fill="#000" stroke="#000" stroke-width="0.45">K</text>
<line x1="315.4" y1="435.00" x2="315.4" y2="542.6" stroke="#222" stroke-width="1.1"/>
<line x1="312.50" y1="542.6" x2="384.90" y2="542.6" stroke="#222" stroke-width="1.1"/>
<line x1="312.50" y1="542.6" x2="315.4" y2="542.6" stroke="#222" stroke-width="1"/>
<text x="309.50" y="545.20" font-size="8.3" fill="#333" stroke="#333" stroke-width="0.15" text-anchor="end" letter-spacing="0.1">0</text>
<line x1="312.50" y1="516.48" x2="315.4" y2="516.48" stroke="#222" stroke-width="1"/>
<text x="309.50" y="519.08" font-size="8.3" fill="#333" stroke="#333" stroke-width="0.15" text-anchor="end" letter-spacing="0.1">20</text>
<line x1="312.50" y1="490.35" x2="315.4" y2="490.35" stroke="#222" stroke-width="1"/>
<text x="309.50" y="492.95" font-size="8.3" fill="#333" stroke="#333" stroke-width="0.15" text-anchor="end" letter-spacing="0.1">40</text>
<line x1="312.50" y1="464.23" x2="315.4" y2="464.23" stroke="#222" stroke-width="1"/>
<text x="309.50" y="466.83" font-size="8.3" fill="#333" stroke="#333" stroke-width="0.15" text-anchor="end" letter-spacing="0.1">60</text>
<line x1="312.50" y1="438.1" x2="315.4" y2="438.1" stroke="#222" stroke-width="1"/>
<text x="309.50" y="440.70" font-size="8.3" fill="#333" stroke="#333" stroke-width="0.15" text-anchor="end" letter-spacing="0.1">80</text>
<text transform="translate(293.6,489.2) rotate(-90)" font-size="9.0" fill="#222" stroke="#222" stroke-width="0.26" text-anchor="middle" textLength="62.0" lengthAdjust="spacingAndGlyphs">PD-1 gMFI (of CD8<tspan baseline-shift="40%" font-size="60%">+</tspan>)</text>
<rect x="321.70" y="461.61" width="9.0" height="80.99" fill="#E38B7E"/>
<rect x="337.77" y="497.53" width="9.0" height="45.07" fill="#FBDA95"/>
<rect x="353.84" y="496.1" width="9.0" height="46.50" fill="#8D99BD"/>
<rect x="369.91" y="504.72" width="9.0" height="37.88" fill="#AAD392"/>
<line x1="326.20" y1="542.6" x2="326.20" y2="545.6" stroke="#222" stroke-width="1"/>
<text transform="translate(329.20,552.70) rotate(-45)" font-size="7.8" fill="#222" stroke="#222" stroke-width="0.18" text-anchor="end">Untreated</text>
<line x1="342.27" y1="542.6" x2="342.27" y2="545.6" stroke="#222" stroke-width="1"/>
<text transform="translate(345.27,552.70) rotate(-45)" font-size="7.8" fill="#222" stroke="#222" stroke-width="0.18" text-anchor="end">Cytarabine</text>
<line x1="358.34" y1="542.6" x2="358.34" y2="545.6" stroke="#222" stroke-width="1"/>
<text transform="translate(361.34,552.70) rotate(-45)" font-size="7.8" fill="#222" stroke="#222" stroke-width="0.18" text-anchor="end">Combo</text>
<line x1="374.41" y1="542.6" x2="374.41" y2="545.6" stroke="#222" stroke-width="1"/>
<text transform="translate(377.41,552.70) rotate(-45)" font-size="7.8" fill="#222" stroke="#222" stroke-width="0.18" text-anchor="end">Healthy</text>
<line x1="326.20" y1="468.54" x2="326.20" y2="454.69" stroke="#880B27" stroke-width="1"/>
<line x1="323.72" y1="454.69" x2="328.68" y2="454.69" stroke="#880B27" stroke-width="1"/>
<line x1="323.72" y1="468.54" x2="328.68" y2="468.54" stroke="#880B27" stroke-width="1"/>
<circle cx="326.20" cy="443.85" r="1.85" fill="#880B27"/>
<circle cx="326.20" cy="460.83" r="1.85" fill="#880B27"/>
<circle cx="326.20" cy="463.96" r="1.85" fill="#880B27"/>
<circle cx="326.20" cy="467.23" r="1.85" fill="#880B27"/>
<circle cx="326.20" cy="472.19" r="1.85" fill="#880B27"/>
<line x1="342.27" y1="500.54" x2="342.27" y2="494.53" stroke="#CDB055" stroke-width="1"/>
<line x1="339.79" y1="494.53" x2="344.75" y2="494.53" stroke="#CDB055" stroke-width="1"/>
<line x1="339.79" y1="500.54" x2="344.75" y2="500.54" stroke="#CDB055" stroke-width="1"/>
<circle cx="342.27" cy="491.79" r="1.85" fill="#DDB325"/>
<circle cx="337.77" cy="495.18" r="1.85" fill="#DDB325"/>
<circle cx="346.77" cy="495.18" r="1.85" fill="#DDB325"/>
<circle cx="342.27" cy="498.19" r="1.85" fill="#DDB325"/>
<circle cx="342.27" cy="509.16" r="1.85" fill="#DDB325"/>
<line x1="358.34" y1="503.28" x2="358.34" y2="488.91" stroke="#102856" stroke-width="1"/>
<line x1="355.86" y1="488.91" x2="360.81" y2="488.91" stroke="#102856" stroke-width="1"/>
<line x1="355.86" y1="503.28" x2="360.81" y2="503.28" stroke="#102856" stroke-width="1"/>
<circle cx="358.34" cy="472.85" r="1.85" fill="#102856"/>
<circle cx="358.34" cy="494.01" r="1.85" fill="#102856"/>
<circle cx="354.04" cy="500.15" r="1.85" fill="#102856"/>
<circle cx="362.64" cy="500.15" r="1.85" fill="#102856"/>
<circle cx="358.34" cy="506.16" r="1.85" fill="#102856"/>
<line x1="374.41" y1="509.81" x2="374.41" y2="499.62" stroke="#329C40" stroke-width="1"/>
<line x1="371.93" y1="499.62" x2="376.88" y2="499.62" stroke="#329C40" stroke-width="1"/>
<line x1="371.93" y1="509.81" x2="376.88" y2="509.81" stroke="#329C40" stroke-width="1"/>
<circle cx="374.41" cy="496.1" r="1.95" fill="none" stroke="#329C40" stroke-width="1.05"/>
<circle cx="370.21" cy="508.25" r="1.95" fill="none" stroke="#329C40" stroke-width="1.05"/>
<circle cx="378.61" cy="505.5" r="1.95" fill="none" stroke="#329C40" stroke-width="1.05"/>
<circle cx="374.41" cy="506.68" r="1.95" fill="none" stroke="#329C40" stroke-width="1.05"/>
<polyline points="325.7,403.8 325.7,389.2 374.5,389.2 374.5,489.6" fill="none" stroke="#222" stroke-width="0.95"/>
<text x="350.10" y="388.5" font-size="7" font-weight="bold" fill="#222" text-anchor="middle">***</text>
<polyline points="325.7,415.4 325.7,409.8 358.2,409.8 358.2,466.2" fill="none" stroke="#222" stroke-width="0.95"/>
<text x="341.95" y="409.1" font-size="7" font-weight="bold" fill="#222" text-anchor="middle">**</text>
<polyline points="325.7,437.2 325.7,431.2 342.2,431.2 342.2,485.8" fill="none" stroke="#222" stroke-width="0.95"/>
<text x="333.95" y="430.5" font-size="7" font-weight="bold" fill="#222" text-anchor="middle">***</text>
<text x="403.0" y="372.7" font-size="11.6" font-weight="bold" fill="#000" stroke="#000" stroke-width="0.45">L</text>
<line x1="443.1" y1="435.00" x2="443.1" y2="542.6" stroke="#222" stroke-width="1.1"/>
<line x1="440.20" y1="542.6" x2="512.60" y2="542.6" stroke="#222" stroke-width="1.1"/>
<line x1="440.20" y1="542.6" x2="443.1" y2="542.6" stroke="#222" stroke-width="1"/>
<text x="437.20" y="545.20" font-size="8.3" fill="#333" stroke="#333" stroke-width="0.15" text-anchor="end" letter-spacing="0.1">0</text>
<line x1="440.20" y1="507.77" x2="443.1" y2="507.77" stroke="#222" stroke-width="1"/>
<text x="437.20" y="510.37" font-size="8.3" fill="#333" stroke="#333" stroke-width="0.15" text-anchor="end" letter-spacing="0.1">50</text>
<line x1="440.20" y1="472.93" x2="443.1" y2="472.93" stroke="#222" stroke-width="1"/>
<text x="437.20" y="475.53" font-size="8.3" fill="#333" stroke="#333" stroke-width="0.15" text-anchor="end" letter-spacing="0.1">100</text>
<line x1="440.20" y1="438.1" x2="443.1" y2="438.1" stroke="#222" stroke-width="1"/>
<text x="437.20" y="440.70" font-size="8.3" fill="#333" stroke="#333" stroke-width="0.15" text-anchor="end" letter-spacing="0.1">150</text>
<text transform="translate(417.2,488.2) rotate(-90)" font-size="8.9" fill="#222" stroke="#222" stroke-width="0.26" text-anchor="middle" textLength="64.0" lengthAdjust="spacingAndGlyphs">CD69 gMFI (of CD8<tspan baseline-shift="40%" font-size="60%">+</tspan>)</text>
<rect x="449.40" y="494.04" width="9.0" height="48.56" fill="#E38B7E"/>
<rect x="465.47" y="493.14" width="9.0" height="49.46" fill="#FBDA95"/>
<rect x="481.54" y="486.45" width="9.0" height="56.15" fill="#8D99BD"/>
<rect x="497.61" y="469.24" width="9.0" height="73.36" fill="#AAD392"/>
<line x1="453.90" y1="542.6" x2="453.90" y2="545.6" stroke="#222" stroke-width="1"/>
<text transform="translate(456.90,552.70) rotate(-45)" font-size="7.8" fill="#222" stroke="#222" stroke-width="0.18" text-anchor="end">Untreated</text>
<line x1="469.97" y1="542.6" x2="469.97" y2="545.6" stroke="#222" stroke-width="1"/>
<text transform="translate(472.97,552.70) rotate(-45)" font-size="7.8" fill="#222" stroke="#222" stroke-width="0.18" text-anchor="end">Cytarabine</text>
<line x1="486.04" y1="542.6" x2="486.04" y2="545.6" stroke="#222" stroke-width="1"/>
<text transform="translate(489.04,552.70) rotate(-45)" font-size="7.8" fill="#222" stroke="#222" stroke-width="0.18" text-anchor="end">Combo</text>
<line x1="502.11" y1="542.6" x2="502.11" y2="545.6" stroke="#222" stroke-width="1"/>
<text transform="translate(505.11,552.70) rotate(-45)" font-size="7.8" fill="#222" stroke="#222" stroke-width="0.18" text-anchor="end">Healthy</text>
<line x1="453.90" y1="506.09" x2="453.90" y2="481.99" stroke="#880B27" stroke-width="1"/>
<line x1="451.43" y1="481.99" x2="456.38" y2="481.99" stroke="#880B27" stroke-width="1"/>
<line x1="451.43" y1="506.09" x2="456.38" y2="506.09" stroke="#880B27" stroke-width="1"/>
<circle cx="453.90" cy="460.6" r="1.85" fill="#880B27"/>
<circle cx="453.90" cy="501.22" r="1.85" fill="#880B27"/>
<circle cx="449.60" cy="504.77" r="1.85" fill="#880B27"/>
<circle cx="458.20" cy="504.77" r="1.85" fill="#880B27"/>
<line x1="469.97" y1="504.28" x2="469.97" y2="481.99" stroke="#CDB055" stroke-width="1"/>
<line x1="467.50" y1="481.99" x2="472.45" y2="481.99" stroke="#CDB055" stroke-width="1"/>
<line x1="467.50" y1="504.28" x2="472.45" y2="504.28" stroke="#CDB055" stroke-width="1"/>
<circle cx="469.97" cy="463.25" r="1.85" fill="#DDB325"/>
<circle cx="469.97" cy="472.24" r="1.85" fill="#DDB325"/>
<circle cx="469.97" cy="500.1" r="1.85" fill="#DDB325"/>
<circle cx="469.97" cy="508.18" r="1.85" fill="#DDB325"/>
<circle cx="469.97" cy="515.5" r="1.85" fill="#DDB325"/>
<line x1="486.04" y1="494.18" x2="486.04" y2="478.72" stroke="#102856" stroke-width="1"/>
<line x1="483.56" y1="478.72" x2="488.52" y2="478.72" stroke="#102856" stroke-width="1"/>
<line x1="483.56" y1="494.18" x2="488.52" y2="494.18" stroke="#102856" stroke-width="1"/>
<circle cx="486.04" cy="467.64" r="1.85" fill="#102856"/>
<circle cx="486.04" cy="471.75" r="1.85" fill="#102856"/>
<circle cx="486.04" cy="488.75" r="1.85" fill="#102856"/>
<circle cx="481.84" cy="498.78" r="1.85" fill="#102856"/>
<circle cx="490.24" cy="498.78" r="1.85" fill="#102856"/>
<line x1="502.11" y1="474.54" x2="502.11" y2="463.95" stroke="#329C40" stroke-width="1"/>
<line x1="499.63" y1="463.95" x2="504.59" y2="463.95" stroke="#329C40" stroke-width="1"/>
<line x1="499.63" y1="474.54" x2="504.59" y2="474.54" stroke="#329C40" stroke-width="1"/>
<circle cx="497.91" cy="462.27" r="1.95" fill="none" stroke="#329C40" stroke-width="1.05"/>
<circle cx="506.31" cy="464.57" r="1.95" fill="none" stroke="#329C40" stroke-width="1.05"/>
<circle cx="502.11" cy="478.02" r="1.95" fill="none" stroke="#329C40" stroke-width="1.05"/>
<line x1="0" y1="0.5" x2="520" y2="0.5" stroke="#555" stroke-width="1"/>
<line x1="0.5" y1="0" x2="0.5" y2="588" stroke="#666" stroke-width="1"/>
<line x1="519.5" y1="0" x2="519.5" y2="588" stroke="#555" stroke-width="1"/>
<line x1="0" y1="587.5" x2="520" y2="587.5" stroke="#444" stroke-width="1"/>
</svg>
</body></html>
